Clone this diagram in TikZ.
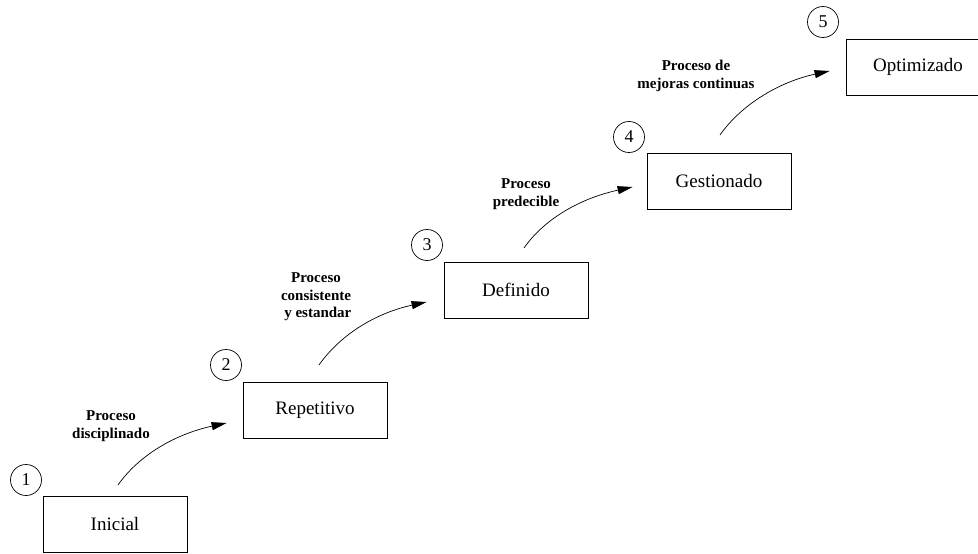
\documentclass[tikz,border=0pt]{standalone}
\usepackage{fontspec}
\setmainfont{Liberation Serif}
\usetikzlibrary{arrows.meta,calc}

\tikzset{
  stage/.style={draw, line width=0.8pt, minimum width=144pt, minimum height=56pt,
    inner sep=0pt, font=\fontsize{19}{22}\selectfont},
  num/.style={draw, circle, line width=0.7pt, minimum size=31pt, inner sep=0pt,
    font=\fontsize{18}{20}\selectfont},
  lbl/.style={align=center, font=\fontsize{15}{17.5}\selectfont\bfseries},
  step arrow/.style={line width=0.7pt, -{Triangle[length=15pt,width=8pt]}},
}

\begin{document}
\begin{tikzpicture}[x=1pt, y=-1pt]
  \useasboundingbox (0,0) rectangle (978,554);

  % Maturity levels
  \node[stage] (ini) at (115,524) {Inicial};
  \node[stage] (rep) at (315,410) {Repetitivo};
  \node[stage] (def) at (516,290) {Definido};
  \node[stage] (ges) at (719,181) {Gestionado};
  \node[stage] (opt) at (918,67)  {Optimizado};

  % Level numbers
  \node[num] (n1) at (26,480)  {1};
  \node[num] (n2) at (226,365) {2};
  \node[num] (n3) at (427,245) {3};
  \node[num] (n4) at (629,137) {4};
  \node[num] (n5) at (823,22)  {5};

  % Transition labels
  \node[lbl] (l1) at (111,426) {Proceso\\disciplinado};
  \node[lbl] (l2) at (316,297) {Proceso\\consistente\\\ y estandar};
  \node[lbl] (l3) at (526,194) {Proceso\\predecible};
  \node[lbl] (l4) at (696,76)  {Proceso de\\mejoras continuas};

  % Arrow start and end points
  \coordinate (s1) at (118,485);
  \coordinate (s2) at (319,365);
  \coordinate (s3) at (524,248);
  \coordinate (s4) at (720,135);
  \coordinate (e1) at ($(rep.west)+(-16,13)$);
  \coordinate (e2) at ($(def.west)+(-17,12)$);
  \coordinate (e3) at ($(ges.west)+(-14,6)$);
  \coordinate (e4) at ($(opt.west)+(-16,4)$);

  % Transition arrows
  \draw[step arrow] (s1) .. controls +(21,-30) and +(-51,11) .. (e1);
  \draw[step arrow] (s2) .. controls +(21,-30) and +(-51,11) .. (e2);
  \draw[step arrow] (s3) .. controls +(21,-30) and +(-51,11) .. (e3);
  \draw[step arrow] (s4) .. controls +(21,-30) and +(-51,11) .. (e4);
\end{tikzpicture}
\end{document}
